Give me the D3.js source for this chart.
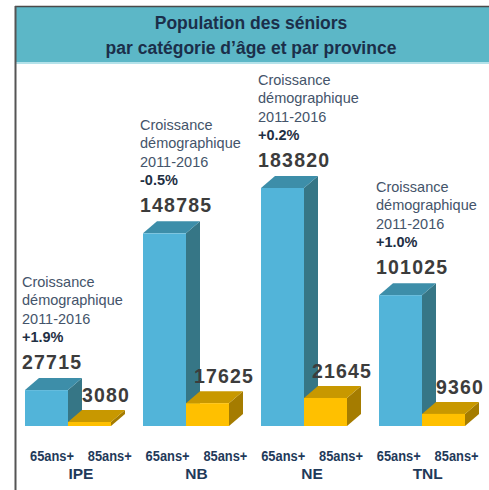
<!DOCTYPE html>
<html>
<head>
<meta charset="utf-8">
<script src="https://cdn.jsdelivr.net/npm/d3@7"></script>
<style>
  html, body { margin: 0; padding: 0; background: #fff; }
  svg { display: block; }
  text { font-family: "Liberation Sans", Arial, sans-serif; }
</style>
</head>
<body>
<svg id="chart" width="489" height="490"></svg>
<script>
// ---- data ----
const titleLines = ["Population des séniors", "par catégorie d\u2019âge et par province"];
const provinces = ["IPE", "NB", "NE", "TNL"];
const ageGroups = ["65ans+", "85ans+"];
const seniors65 = [27715, 148785, 183820, 101025];
const seniors85 = [3080, 17625, 21645, 9360];
const growthLines = ["Croissance", "démographique", "2011-2016"];
const growth = ["+1.9%", "-0.5%", "+0.2%", "+1.0%"];

const svg = d3.select("#chart");

// ---- frame & title band ----
svg.append("rect").attr("x", 16).attr("y", 7).attr("width", 473).attr("height", 55).attr("fill", "#5cb7c7");
svg.append("rect").attr("x", 16).attr("y", 62).attr("width", 473).attr("height", 2).attr("fill", "#b4e2ea");
svg.append("line").attr("x1", 15).attr("x2", 489).attr("y1", 6.5).attr("y2", 6.5).attr("stroke", "#4a4a4a").attr("stroke-width", 1.5);
svg.append("line").attr("x1", 15.5).attr("x2", 15.5).attr("y1", 6).attr("y2", 490).attr("stroke", "#555").attr("stroke-width", 2);

svg.selectAll("text.title").data(titleLines).join("text")
  .attr("class", "title")
  .attr("x", 251).attr("y", (d, i) => 29 + i * 25)
  .attr("text-anchor", "middle")
  .attr("font-size", 17.5).attr("font-weight", "bold")
  .attr("fill", "#1b2f4a")
  .text(d => d);

// ---- scales ----
const y = d3.scaleLinear().domain([0, 183820]).range([426, 188]);
const x0 = d3.scaleBand().domain(provinces).range([25, 465]).paddingInner(32 / 118).paddingOuter(0);
const x1 = d3.scaleBand().domain(ageGroups).range([0, x0.bandwidth()]).padding(0);
const depthX = 14, depthY = -12;

const rows = [];
provinces.forEach((p, i) => {
  rows.push({ prov: p, age: ageGroups[0], value: seniors65[i], idx: i });
  rows.push({ prov: p, age: ageGroups[1], value: seniors85[i], idx: i });
});

const colors = {
  "65ans+": { front: "#52b4d9", top: "#3d8ea9", side: "#367686" },
  "85ans+": { front: "#ffc000", top: "#c89800", side: "#a57c00" }
};

const bars = svg.append("g");
rows.forEach(r => {
  const bx = x0(r.prov) + x1(r.age);
  const bw = x1.bandwidth();
  const by = y(r.value);
  const base = y(0);
  const c = colors[r.age];
  const g = bars.append("g");
  g.append("path")
    .attr("d", `M${bx + bw},${by} L${bx + bw + depthX},${by + depthY} L${bx + bw + depthX},${base + depthY} L${bx + bw},${base} Z`)
    .attr("fill", c.side);
  g.append("path")
    .attr("d", `M${bx},${by} L${bx + depthX},${by + depthY} L${bx + bw + depthX},${by + depthY} L${bx + bw},${by} Z`)
    .attr("fill", c.top);
  g.append("rect")
    .attr("x", bx).attr("y", by).attr("width", bw).attr("height", base - by)
    .attr("fill", c.front);
});

// ---- value labels ----
rows.forEach(r => {
  const bx = x0(r.prov) + x1(r.age);
  const topBack = y(r.value) + depthY;
  const t = svg.append("text")
    .attr("font-size", 19.5).attr("font-weight", "bold")
    .attr("letter-spacing", 1.2)
    .attr("fill", "#3c3c3c")
    .text(r.value);
  if (r.age === "65ans+") {
    t.attr("x", bx - 3).attr("y", topBack - 9);
  } else {
    t.attr("x", bx + 38).attr("y", topBack - 8).attr("text-anchor", "middle");
  }
});

// ---- growth annotations ----
provinces.forEach((p, i) => {
  const bx = x0(p);
  const valBase = y(seniors65[i]) + depthY - 9;
  const lastBase = valBase - 27;
  const lines = growthLines.concat([growth[i]]);
  lines.forEach((t, j) => {
    svg.append("text")
      .attr("x", bx - 3)
      .attr("y", lastBase - (lines.length - 1 - j) * 18.5)
      .attr("font-size", 14.5)
      .attr("font-weight", j === lines.length - 1 ? "bold" : "normal")
      .attr("fill", j === lines.length - 1 ? "#1f3044" : "#44546a")
      .text(t);
  });
});

// ---- category axis ----
const subLabels = [];
provinces.forEach(p => ageGroups.forEach(a => subLabels.push(p + "|" + a)));
const xl = d3.scalePoint().domain(subLabels).range([52, 456.6]);

svg.selectAll("text.sub").data(subLabels).join("text")
  .attr("class", "sub")
  .attr("x", d => xl(d)).attr("y", 461)
  .attr("text-anchor", "middle")
  .attr("font-size", 14).attr("font-weight", "bold")
  .attr("textLength", 44).attr("lengthAdjust", "spacingAndGlyphs")
  .attr("fill", "#1f3a5a")
  .text(d => d.split("|")[1]);

svg.selectAll("text.prov").data(provinces).join("text")
  .attr("class", "prov")
  .attr("x", p => (xl(p + "|" + ageGroups[0]) + xl(p + "|" + ageGroups[1])) / 2)
  .attr("y", 479)
  .attr("text-anchor", "middle")
  .attr("font-size", 15.5).attr("font-weight", "bold")
  .attr("fill", "#1f3a5a")
  .text(p => p);
</script>
</body>
</html>
